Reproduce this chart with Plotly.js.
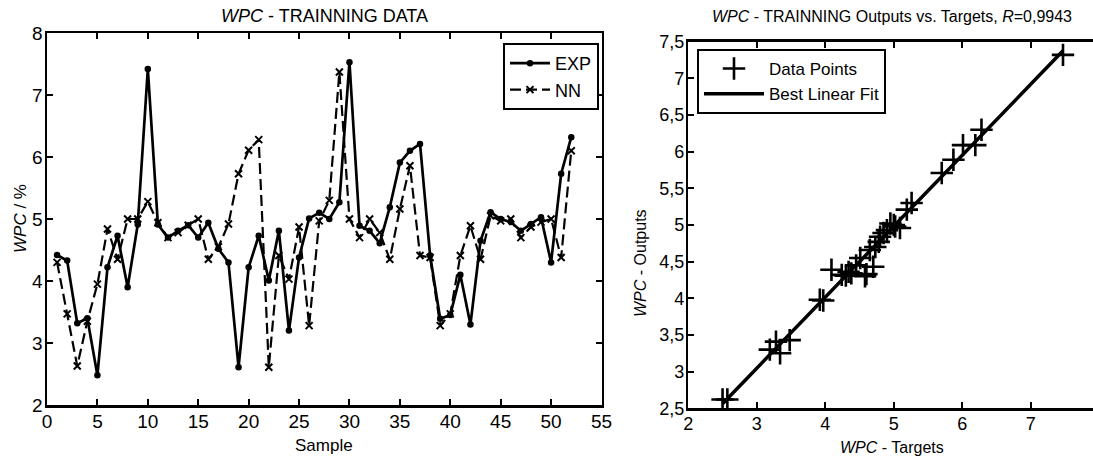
<!DOCTYPE html>
<html>
<head>
<meta charset="utf-8">
<script src="https://cdn.plot.ly/plotly-3.0.1.min.js"></script>
<style>html,body{margin:0;padding:0;background:#fff;}#chart{width:1093px;height:457px;}</style>
</head>
<body>
<div id="chart"></div>
<script>
// ---- Left panel: training data ----
const sample = [1,2,3,4,5,6,7,8,9,10,11,12,13,14,15,16,17,18,19,20,21,22,23,24,25,26,
  27,28,29,30,31,32,33,34,35,36,37,38,39,40,41,42,43,44,45,46,47,48,49,50,51,52];
const expValues = [4.42,4.33,3.32,3.40,2.48,4.22,4.73,3.90,4.91,7.42,4.91,4.70,4.81,4.90,4.70,4.94,
  4.52,4.30,2.61,4.22,4.73,4.01,4.81,3.20,4.38,5.01,5.10,5.00,5.27,7.53,4.89,4.81,4.61,5.19,
  5.91,6.10,6.21,4.41,3.39,3.45,4.10,3.30,4.65,5.11,5.00,4.95,4.81,4.92,5.03,4.30,5.73,6.32];
const nnValues = [4.30,3.47,2.63,3.35,3.95,4.84,4.35,5.00,5.00,5.28,4.94,4.70,4.78,4.90,5.00,4.35,
  4.55,4.92,5.73,6.11,6.28,2.61,4.41,4.03,4.87,3.28,4.97,5.30,7.37,5.00,4.70,5.00,4.78,4.35,
  5.16,5.86,4.41,4.38,3.28,3.47,4.41,4.89,4.35,5.05,4.97,5.00,4.70,4.87,4.95,5.00,4.38,6.10];

// ---- Right panel: outputs vs targets ----
const targets = [2.50,2.57,3.19,3.28,3.34,3.48,3.92,3.97,4.09,4.24,4.30,4.34,4.38,4.45,4.51,4.58,
  4.60,4.65,4.70,4.73,4.78,4.80,4.85,4.90,4.95,5.00,5.02,5.09,5.19,5.26,5.70,5.87,6.01,6.19,6.28,7.47];
const outputs = [2.62,2.62,3.30,3.41,3.25,3.43,3.98,3.97,4.39,4.32,4.31,4.36,4.34,4.45,4.55,4.30,
  4.33,4.66,4.43,4.70,4.77,4.84,4.89,4.93,5.02,5.00,4.98,4.96,5.21,5.30,5.71,5.89,6.09,6.09,6.30,7.32];
const rValue = "0,9943";

// least-squares best linear fit from the data
function linFit(x, y) {
  const n = x.length;
  const mx = x.reduce((a,b)=>a+b,0)/n, my = y.reduce((a,b)=>a+b,0)/n;
  let sxy = 0, sxx = 0;
  for (let i=0;i<n;i++){ sxy += (x[i]-mx)*(y[i]-my); sxx += (x[i]-mx)*(x[i]-mx); }
  const m = sxy/sxx, b = my - m*mx;
  const xs = [Math.min(...x), Math.max(...x)];
  return {x: xs, y: xs.map(v => m*v + b)};
}
const fit = linFit(targets, outputs);

const FONT = "Liberation Sans, Arial, sans-serif";
const W = 1093, H = 457;
const px = v => v / W, py = v => 1 - v / H;

const traces = [
  {x: sample, y: expValues, name: "EXP", type: "scatter", mode: "lines+markers",
   line: {color: "#000", width: 2.7}, marker: {symbol: "circle", size: 6.5, color: "#000"},
   xaxis: "x", yaxis: "y", legend: "legend"},
  {x: sample, y: nnValues, name: "NN", type: "scatter", mode: "lines+markers",
   line: {color: "#000", width: 2.2, dash: "11px,5px"}, marker: {symbol: "x-thin-open", size: 7, color: "#000", line: {color: "#000", width: 2}},
   xaxis: "x", yaxis: "y", legend: "legend"},
  {x: targets, y: outputs, name: "Data Points", type: "scatter", mode: "markers",
   marker: {symbol: "cross-thin-open", size: 16, color: "#000", line: {color: "#000", width: 2.6}},
   xaxis: "x2", yaxis: "y2", legend: "legend2"},
  {x: fit.x, y: fit.y, name: "Best Linear Fit", type: "scatter", mode: "lines",
   line: {color: "#000", width: 3.5},
   xaxis: "x2", yaxis: "y2", legend: "legend2"}
];

const axisCommon = {
  showgrid: false, zeroline: false, showline: true, linecolor: "#000", linewidth: 2.5,
  ticks: "inside", ticklen: 6, tickwidth: 2, tickcolor: "#000", ticklabelstandoff: -2,
  tickfont: {family: FONT, size: 19, color: "#000"}
};

const layout = {
  width: W, height: H,
  margin: {l: 0, r: 0, t: 0, b: 0},
  paper_bgcolor: "#fff", plot_bgcolor: "#fff",
  separators: ", ",
  font: {family: FONT, color: "#000"},
  xaxis: Object.assign({}, axisCommon, {domain: [px(47), px(601.5)], range: [0, 55], dtick: 5, tick0: 0, mirror: "ticks", anchor: "y"}),
  yaxis: Object.assign({}, axisCommon, {domain: [1 - 405/H, 1 - 33/H], range: [2, 8], dtick: 1, mirror: "ticks", anchor: "x"}),
  xaxis2: Object.assign({}, axisCommon, {domain: [px(688.3), 1], range: [2, 7.908], dtick: 1, tick0: 2, mirror: "ticks", anchor: "y2",
    tickfont: {family: FONT, size: 18, color: "#000"}}),
  yaxis2: Object.assign({}, axisCommon, {domain: [1 - 408.3/H, 1 - 41.7/H], range: [2.5, 7.5], dtick: 0.5, tick0: 2.5, mirror: false, anchor: "x2",
    tickfont: {family: FONT, size: 18, color: "#000"}}),
  legend: {x: px(599), xanchor: "right", y: py(43), yanchor: "top", itemwidth: 40,
    bordercolor: "#000", borderwidth: 2, bgcolor: "#fff",
    font: {family: FONT, size: 18, color: "#000"}},
  legend2: {x: px(697), xanchor: "left", y: py(49), yanchor: "top", itemwidth: 60,
    bordercolor: "#000", borderwidth: 2, bgcolor: "#fff",
    font: {family: FONT, size: 17, color: "#000"}},
  annotations: [
    {text: "<i>WPC</i> - TRAINNING DATA", xref: "paper", yref: "paper", x: px(324), y: py(16),
     xanchor: "center", yanchor: "middle", showarrow: false, font: {family: FONT, size: 18, color: "#000"}},
    {text: "<i>WPC</i> / %", xref: "paper", yref: "paper", x: px(20), y: py(219), textangle: -90,
     xanchor: "center", yanchor: "middle", showarrow: false, font: {family: FONT, size: 17, color: "#000"}},
    {text: "Sample", xref: "paper", yref: "paper", x: px(324), y: py(445),
     xanchor: "center", yanchor: "middle", showarrow: false, font: {family: FONT, size: 17, color: "#000"}},
    {text: "<i>WPC</i> - TRAINNING Outputs vs. Targets, <i>R</i>=" + rValue, xref: "paper", yref: "paper", x: px(892), y: py(16),
     xanchor: "center", yanchor: "middle", showarrow: false, font: {family: FONT, size: 16, color: "#000"}},
    {text: "<i>WPC</i> - Outputs", xref: "paper", yref: "paper", x: px(640), y: py(263), textangle: -90,
     xanchor: "center", yanchor: "middle", showarrow: false, font: {family: FONT, size: 16, color: "#000"}},
    {text: "<i>WPC</i> - Targets", xref: "paper", yref: "paper", x: px(892), y: py(447),
     xanchor: "center", yanchor: "middle", showarrow: false, font: {family: FONT, size: 16, color: "#000"}}
  ]
};

Plotly.newPlot("chart", traces, layout, {displayModeBar: false, staticPlot: true});
</script>
</body>
</html>
